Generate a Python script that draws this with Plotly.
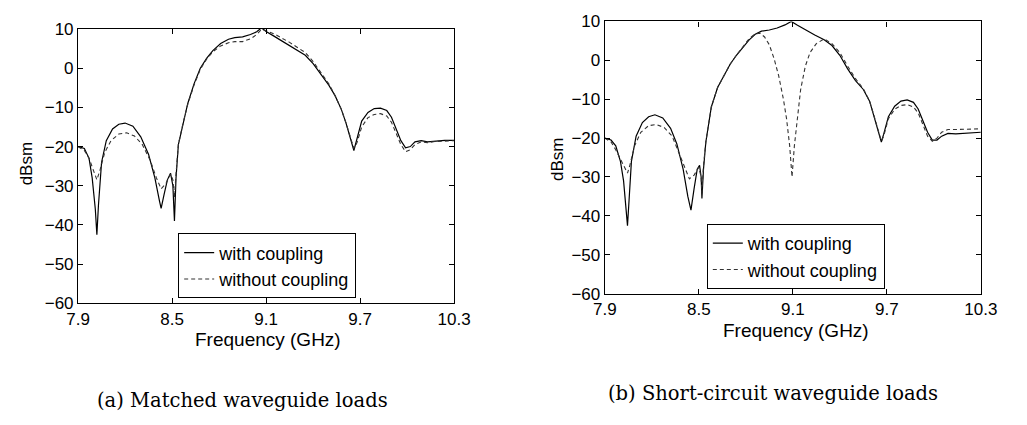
import plotly.graph_objects as go

# ---- data: (a) matched waveguide loads ----
freq_a_with = [7.90, 7.94, 7.97, 7.99, 8.01, 8.02, 8.03, 8.05, 8.08, 8.12, 8.16, 8.20, 8.25, 8.30, 8.35,
               8.39, 8.42, 8.43, 8.45, 8.47, 8.49, 8.505, 8.515, 8.525, 8.54, 8.57, 8.60, 8.64, 8.68,
               8.72, 8.76, 8.81, 8.86, 8.90, 8.95, 9.00, 9.04, 9.07, 9.10, 9.15, 9.20, 9.25, 9.30,
               9.35, 9.40, 9.45, 9.50, 9.54, 9.58, 9.61, 9.64, 9.66, 9.68, 9.71, 9.75, 9.79, 9.83,
               9.87, 9.90, 9.93, 9.96, 9.99, 10.02, 10.05, 10.09, 10.13, 10.18, 10.24, 10.30]
dbsm_a_with = [-20.0, -20.5, -23, -28, -36, -42.5, -35, -24, -18.5, -15.5, -14.3, -14.0, -14.8, -17.5, -22,
               -28, -34, -35.8, -32, -28.5, -26.8, -30, -39, -28, -19.5, -14, -9, -4, 0,
               2.5, 4.5, 6.3, 7.4, 7.8, 8.0, 8.6, 9.3, 10.3, 9.4, 8.2, 7.0, 5.8, 4.6,
               3.3, 1.2, -1.5, -4.3, -7, -10.5, -14, -18, -21, -18, -13.5, -11.3, -10.3, -10.2,
               -10.8, -12.5, -15.5, -18.5, -20.3, -20.0, -18.8, -18.5, -18.8, -18.6, -18.4, -18.4]

freq_a_without = [7.90, 7.94, 7.97, 8.00, 8.02, 8.04, 8.07, 8.11, 8.16, 8.21, 8.26, 8.31, 8.36, 8.40,
                  8.43, 8.46, 8.49, 8.505, 8.515, 8.525, 8.54, 8.57, 8.60, 8.64, 8.68, 8.72, 8.76,
                  8.81, 8.86, 8.90, 8.95, 9.00, 9.04, 9.07, 9.10, 9.15, 9.20, 9.25, 9.30, 9.35, 9.40,
                  9.45, 9.50, 9.54, 9.58, 9.61, 9.64, 9.66, 9.68, 9.71, 9.75, 9.79, 9.83, 9.87, 9.90,
                  9.93, 9.96, 9.99, 10.02, 10.05, 10.09, 10.13, 10.18, 10.24, 10.30]
dbsm_a_without = [-20.0, -21, -23, -26, -28.5, -26, -21.5, -18.5, -16.8, -16.5, -17.3, -19.5, -23.5, -28,
                  -30.8, -29.5, -27, -28.5, -33, -27, -19.5, -14, -9.2, -4.3, -0.3, 2.3, 4.2,
                  5.7, 6.5, 6.8, 6.8, 7.5, 8.6, 9.9, 9.6, 8.8, 7.8, 6.6, 5.3, 4.0, 1.7,
                  -1.0, -4.0, -7, -10.5, -14, -18, -20.5, -19, -15, -12.6, -11.8, -11.6, -12.2, -13.8,
                  -16.5, -19.5, -21.3, -20.8, -19.5, -18.8, -19.0, -18.7, -18.6, -18.5]

# ---- data: (b) short-circuit waveguide loads ----
freq_b_with = [7.90, 7.94, 7.97, 8.00, 8.02, 8.035, 8.045, 8.055, 8.07, 8.10, 8.14, 8.18, 8.22, 8.27,
               8.32, 8.36, 8.40, 8.43, 8.45, 8.47, 8.49, 8.505, 8.515, 8.52, 8.53, 8.545, 8.58, 8.62,
               8.66, 8.70, 8.74, 8.78, 8.82, 8.86, 8.90, 8.95, 9.00, 9.05, 9.09, 9.13, 9.18, 9.24,
               9.30, 9.35, 9.40, 9.45, 9.50, 9.55, 9.59, 9.62, 9.65, 9.665, 9.68, 9.71, 9.75, 9.79,
               9.83, 9.87, 9.90, 9.93, 9.96, 9.99, 10.02, 10.05, 10.09, 10.14, 10.20, 10.25, 10.30]
dbsm_b_with = [-20.0, -20.5, -22, -26, -31, -38, -42.5, -36, -26, -19.5, -16, -14.5, -14.0, -14.8,
               -17.5, -21.5, -28, -35, -38.5, -33, -28, -27, -30, -35.5, -28, -21, -12, -7,
               -4, -1, 1.3, 3.3, 5.2, 6.7, 7.5, 7.8, 8.3, 9.1, 10.0, 9.0, 7.8, 6.5,
               5.3, 3.8, 1.3, -2.2, -5.2, -7.5, -10.5, -14.5, -19, -21, -19, -14.5, -11.8, -10.5,
               -10.2, -10.8, -12.5, -15.5, -18.5, -20.5, -20.5, -19.5, -18.8, -18.9, -18.7, -18.5, -18.5]

freq_b_without = [7.90, 7.94, 7.97, 8.00, 8.03, 8.045, 8.06, 8.09, 8.13, 8.18, 8.23, 8.28, 8.33, 8.37,
                  8.41, 8.44, 8.47, 8.50, 8.515, 8.52, 8.53, 8.545, 8.58, 8.62, 8.66, 8.70, 8.74,
                  8.78, 8.82, 8.86, 8.89, 8.92, 8.95, 8.98, 9.01, 9.04, 9.06, 9.08, 9.095, 9.11,
                  9.13, 9.15, 9.18, 9.21, 9.25, 9.30, 9.35, 9.40, 9.45, 9.50, 9.55, 9.59, 9.62,
                  9.65, 9.665, 9.68, 9.71, 9.75, 9.79, 9.83, 9.87, 9.90, 9.93, 9.96, 9.99, 10.02,
                  10.05, 10.09, 10.14, 10.20, 10.25, 10.30]
dbsm_b_without = [-20.0, -21, -23, -25.5, -28, -29, -27, -22, -18.5, -16.8, -16.5, -17.3, -19.5, -23.5,
                  -28, -30.5, -29.5, -27.5, -30, -34, -27, -21, -12, -7, -4, -1, 1.3,
                  3.5, 5.5, 6.8, 7.0, 6.0, 4.0, 0.5, -4, -10, -15, -22, -30, -22,
                  -14, -7.5, -1.5, 2.0, 4.3, 5.5, 4.3, 2.0, -1.5, -4.7, -7.3, -10.5, -14.5,
                  -19, -20.8, -19.5, -15, -12.6, -11.6, -11.4, -12, -13.5, -16.3, -19.5, -20.8, -20,
                  -18.5, -17.8, -17.8, -17.7, -17.6, -17.6]

x_ticks = [7.9, 8.5, 9.1, 9.7, 10.3]
x_tick_labels = ["7.9", "8.5", "9.1", "9.7", "10.3"]
y_ticks = [10, 0, -10, -20, -30, -40, -50, -60]
y_tick_labels = ["10", "0", "\u221210", "\u221220", "\u221230", "\u221240", "\u221250", "\u221260"]

series_names = ["with coupling", "without coupling"]
captions = ["(a) Matched waveguide loads", "(b) Short-circuit waveguide loads"]

W, H = 1027, 425
SANS = "Liberation Sans, Arial, Helvetica, sans-serif"
SERIF = "DejaVu Serif, serif"

fig = go.Figure()

solid = dict(color="black", width=1.2)
dashed = dict(color="#333333", width=1.1, dash="4px,3px")

fig.add_trace(go.Scatter(x=freq_a_with, y=dbsm_a_with, mode="lines", line=solid,
                         name=series_names[0], xaxis="x", yaxis="y", legend="legend"))
fig.add_trace(go.Scatter(x=freq_a_without, y=dbsm_a_without, mode="lines", line=dashed,
                         name=series_names[1], xaxis="x", yaxis="y", legend="legend"))
fig.add_trace(go.Scatter(x=freq_b_with, y=dbsm_b_with, mode="lines", line=solid,
                         name=series_names[0], xaxis="x2", yaxis="y2", legend="legend2"))
fig.add_trace(go.Scatter(x=freq_b_without, y=dbsm_b_without, mode="lines", line=dashed,
                         name=series_names[1], xaxis="x2", yaxis="y2", legend="legend2"))

def px_x(p):
    return p / W

def px_y(p):
    return 1 - p / H

TICK = 17
axis_common = dict(showline=True, linecolor="black", linewidth=1.2, mirror="ticks",
                   ticks="inside", ticklen=5, tickcolor="black", showgrid=False,
                   zeroline=False, tickfont=dict(family=SANS, size=TICK, color="black"))

legend_common = dict(xanchor="left", yanchor="bottom", bordercolor="black", borderwidth=1,
                     bgcolor="white", font=dict(family=SANS, size=18, color="black"),
                     tracegroupgap=0)

fig.update_layout(
    width=W, height=H,
    margin=dict(l=0, r=0, t=0, b=0),
    paper_bgcolor="white", plot_bgcolor="white",
    font=dict(family=SANS, size=15, color="black"),
    xaxis=dict(domain=[px_x(68), px_x(455)], range=[7.9, 10.3], anchor="y",
               tickvals=x_ticks, ticktext=x_tick_labels, **axis_common),
    yaxis=dict(domain=[px_y(308), px_y(21)], range=[-60, 10], anchor="x",
               tickvals=y_ticks, ticktext=y_tick_labels, **axis_common),
    xaxis2=dict(domain=[px_x(610), px_x(997)], range=[7.9, 10.3], anchor="y2",
                tickvals=x_ticks, ticktext=x_tick_labels, **axis_common),
    yaxis2=dict(domain=[px_y(298), px_y(13)], range=[-60, 10], anchor="x2",
                tickvals=y_ticks, ticktext=y_tick_labels, **axis_common),
    legend=dict(x=px_x(171), y=px_y(303), **legend_common),
    legend2=dict(x=px_x(715), y=px_y(293), **legend_common),
    showlegend=True,
)

ann = []
def add_text(text, x, y, size, family=SANS, angle=0):
    ann.append(dict(text=text, x=px_x(x), y=px_y(y), xref="paper", yref="paper",
                    xanchor="center", yanchor="middle", textangle=angle,
                    showarrow=False, font=dict(family=family, size=size, color="black")))

# y-axis titles
add_text("dBsm", 15, 162, 17, angle=-90)
add_text("dBsm", 562, 158, 17, angle=-90)
# x-axis titles
add_text("Frequency (GHz)", 263, 346, 19)
add_text("Frequency (GHz)", 807, 337, 19)
# captions
add_text(captions[0], 237, 410, 19.5, family=SERIF)
add_text(captions[1], 783, 403, 19.5, family=SERIF)
fig.update_layout(annotations=ann)

fig.write_html("out.html")
